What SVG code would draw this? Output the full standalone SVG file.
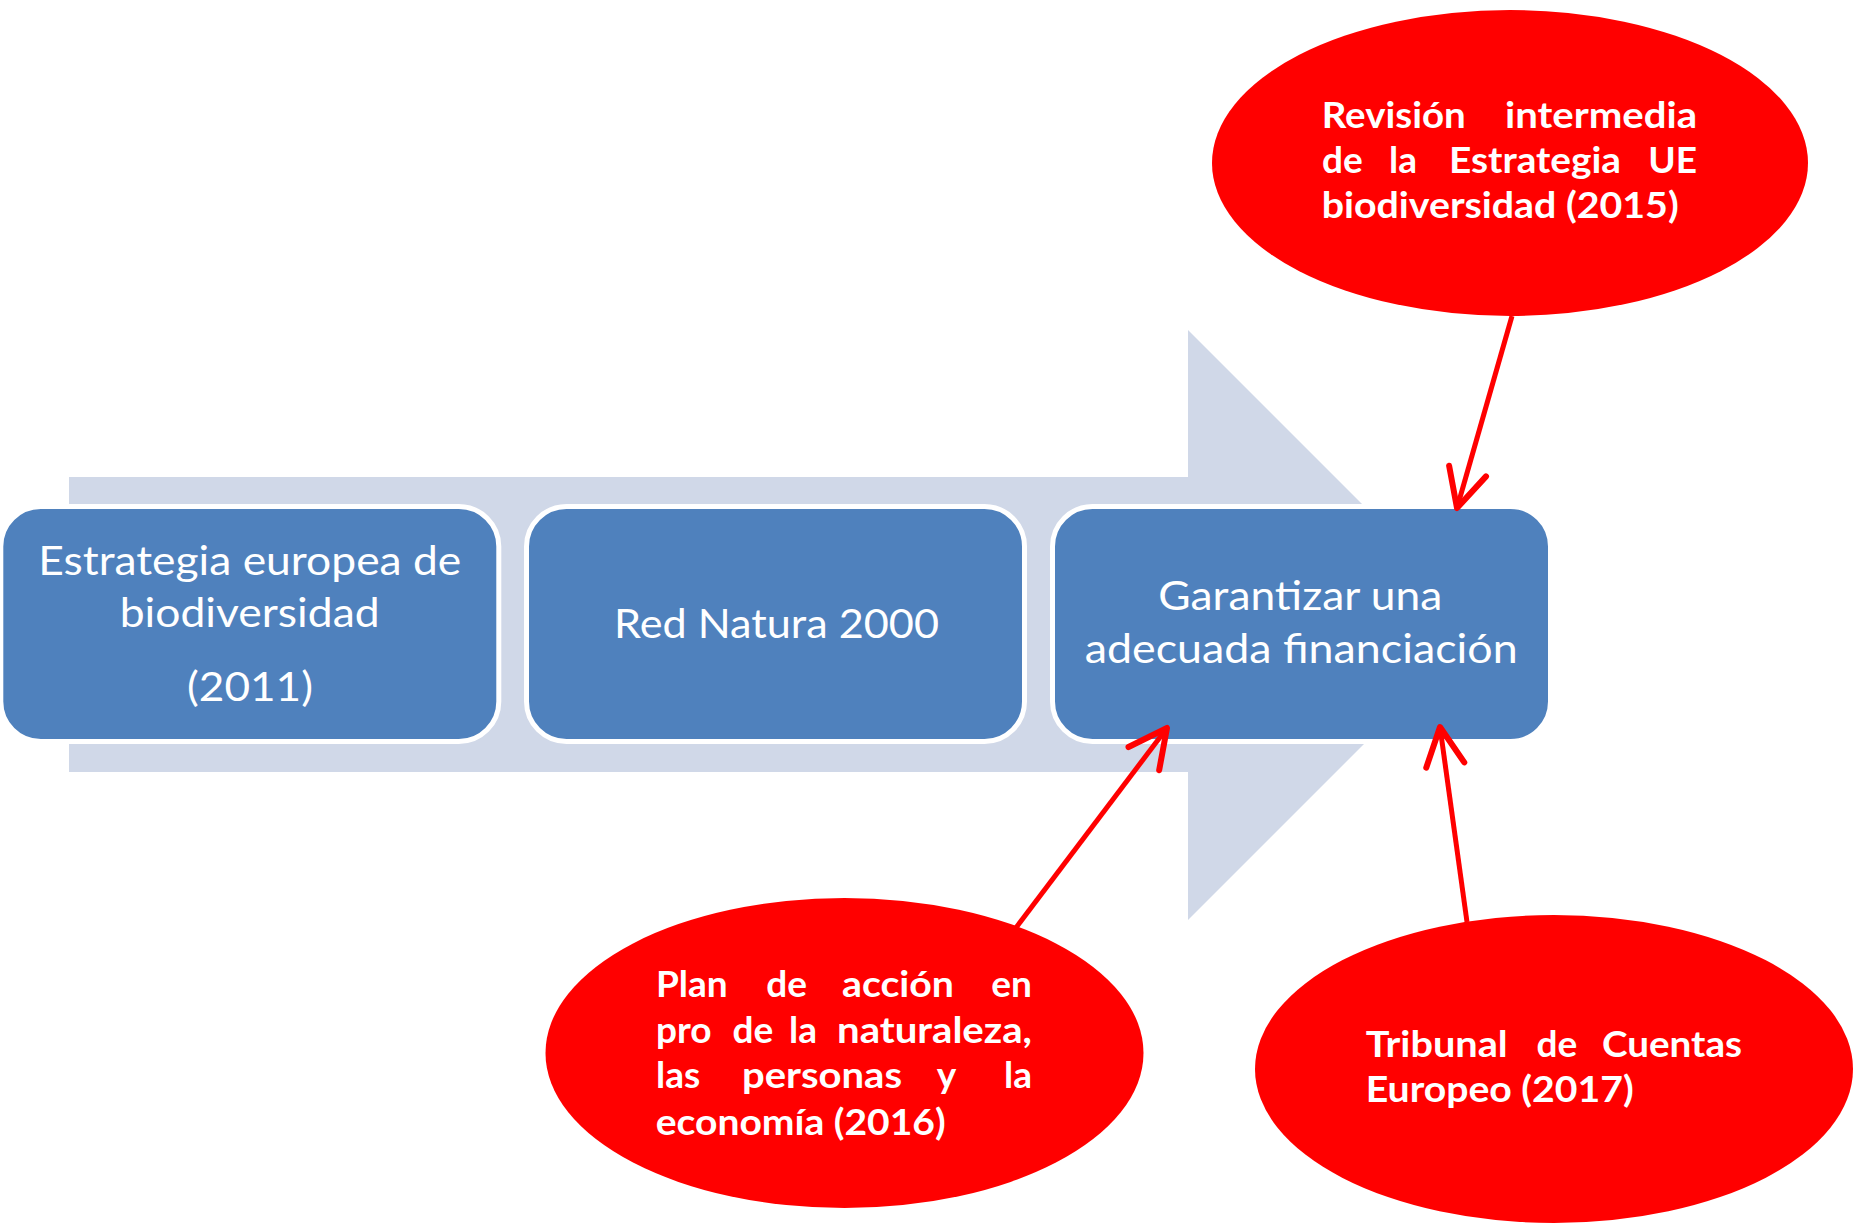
<svg xmlns="http://www.w3.org/2000/svg" width="1864" height="1225" viewBox="0 0 1864 1225">
<style>
.box{fill:#4F81BD;stroke:#FFFFFF;stroke-width:5}
.bt{font-family:Lato,"Liberation Sans",sans-serif;font-size:40px;fill:#FFFFFF}
.ell{fill:#FF0000}
.et{font-family:Lato,"Liberation Sans",sans-serif;font-size:37px;font-weight:700;fill:#FFFFFF}
.m{text-anchor:middle}
.e{text-anchor:end}
.con{stroke:#FF0000;stroke-width:5;fill:none;marker-end:url(#arr)}
</style>
<defs>
<marker id="arr" markerUnits="userSpaceOnUse" markerWidth="60" markerHeight="60" refX="0" refY="0" viewBox="-40 -25 50 50" orient="auto" overflow="visible">
<path d="M-32,-16 L0,0 L-32,16" fill="none" stroke="#FF0000" stroke-width="5" stroke-linecap="round" stroke-linejoin="round"/>
</marker>
</defs>
<rect width="1864" height="1225" fill="#FFFFFF"/>
<g id="big-arrow">
<polygon points="69,477 1188,477 1188,330 1483,625 1188,920 1188,772 69,772" fill="#D0D8E8"/>
</g>
<g id="node-estrategia">
<rect class="box" x="0.8" y="506.5" width="498" height="235" rx="40" ry="40"/>
<text class="bt" x="38.3" y="575" textLength="423" lengthAdjust="spacingAndGlyphs">Estrategia europea de</text>
<text class="bt" x="119.7" y="626.7" textLength="260" lengthAdjust="spacingAndGlyphs">biodiversidad</text>
<text class="bt" x="187" y="700.7" textLength="126" lengthAdjust="spacingAndGlyphs">(2011)</text>
</g>
<g id="node-natura">
<rect class="box" x="526.5" y="506.5" width="498" height="235" rx="40" ry="40"/>
<text class="bt" x="614" y="637.7" textLength="325" lengthAdjust="spacingAndGlyphs">Red Natura 2000</text>
</g>
<g id="node-financiacion">
<rect class="box" x="1052.5" y="506.5" width="498" height="235" rx="40" ry="40"/>
<text class="bt" x="1158.3" y="610" textLength="284" lengthAdjust="spacingAndGlyphs">Garantizar una</text>
<text class="bt" x="1084.7" y="663.3" textLength="433" lengthAdjust="spacingAndGlyphs">adecuada financiación</text>
</g>
<g id="node-revision">
<ellipse class="ell" cx="1510" cy="163" rx="298" ry="153"/>
<text class="et" x="1321.7" y="128.3" textLength="144" lengthAdjust="spacingAndGlyphs">Revisión</text>
<text class="et" x="1505" y="128.3" textLength="192" lengthAdjust="spacingAndGlyphs">intermedia</text>
<text class="et" x="1322" y="172.7">de</text>
<text class="et m" x="1403" y="172.7">la</text>
<text class="et" x="1449" y="172.7" textLength="172" lengthAdjust="spacingAndGlyphs">Estrategia</text>
<text class="et e" x="1697" y="172.7">UE</text>
<text class="et" x="1321.7" y="218" textLength="357" lengthAdjust="spacingAndGlyphs">biodiversidad (2015)</text>
</g>
<g id="node-plan">
<ellipse class="ell" cx="844.5" cy="1053" rx="299" ry="155"/>
<text class="et" x="656" y="996.7">Plan</text>
<text class="et m" x="786.7" y="996.7">de</text>
<text class="et" x="842" y="996.7" textLength="112" lengthAdjust="spacingAndGlyphs">acción</text>
<text class="et e" x="1032" y="996.7">en</text>
<text class="et" x="656" y="1042.7">pro</text>
<text class="et m" x="753" y="1042.7">de</text>
<text class="et m" x="803" y="1042.7">la</text>
<text class="et" x="837" y="1042.7" textLength="195" lengthAdjust="spacingAndGlyphs">naturaleza,</text>
<text class="et" x="656" y="1088.3">las</text>
<text class="et" x="742" y="1088.3" textLength="160" lengthAdjust="spacingAndGlyphs">personas</text>
<text class="et m" x="946.5" y="1088.3">y</text>
<text class="et e" x="1032" y="1088.3">la</text>
<text class="et" x="655.7" y="1135" textLength="290" lengthAdjust="spacingAndGlyphs">economía (2016)</text>
</g>
<g id="node-tribunal">
<ellipse class="ell" cx="1554" cy="1069" rx="299" ry="154"/>
<text class="et" x="1365.7" y="1056.7" textLength="142" lengthAdjust="spacingAndGlyphs">Tribunal</text>
<text class="et m" x="1557" y="1056.7">de</text>
<text class="et" x="1602" y="1056.7" textLength="140" lengthAdjust="spacingAndGlyphs">Cuentas</text>
<text class="et" x="1365.7" y="1101.7" textLength="268" lengthAdjust="spacingAndGlyphs">Europeo (2017)</text>
</g>
<g id="connectors">
<line class="con" x1="1512" y1="316" x2="1457" y2="508"/>
<line class="con" x1="1015" y1="929" x2="1167" y2="728"/>
<line class="con" x1="1467" y1="922" x2="1440" y2="727"/>
</g>
</svg>
